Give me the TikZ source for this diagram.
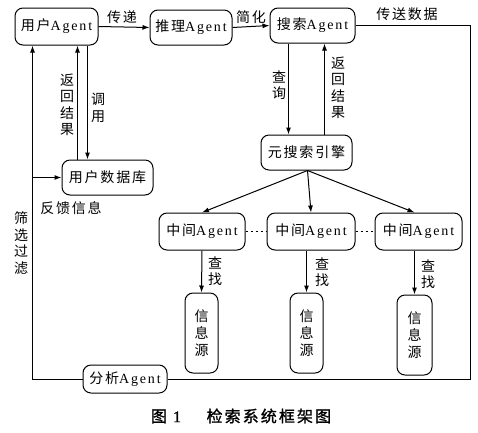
\documentclass[tikz,border=0pt]{standalone}
\usepackage{fontspec}
\setmainfont{Liberation Serif}[LetterSpace=13]
\newfontfamily\cjk{Noto Sans CJK SC}[LetterSpace=13]
\newfontfamily\cjkb{Noto Sans CJK SC}[LetterSpace=13,FakeBold=1.2]
\newfontfamily\capfont{Liberation Serif}[FakeBold=1.2]
\usetikzlibrary{arrows.meta,calc}
\newcommand\zh[1]{{\cjk #1}}
\begin{document}
\begin{tikzpicture}[x=1pt,y=-1pt,
  font=\fontsize{14}{16.5}\selectfont,
  box/.style={draw, line width=1pt, rounded corners=8pt, inner sep=0pt, align=center},
  arr/.style={line width=1pt, -{Latex[length=7pt,width=5pt]}},
  ln/.style={line width=1pt},
  lab/.style={inner sep=0pt, align=center, font=\fontsize{14}{16.5}\selectfont\cjk},
  dots/.style={line width=1pt, dash pattern=on 2.5pt off 2.5pt}]
\useasboundingbox (0,0) rectangle (478,432);

% nodes
\node[box, minimum width=83pt, minimum height=37pt] (ua) at (56.5,26.5) {\zh{用户}Agent};
\node[box, minimum width=82pt, minimum height=35pt] (tl) at (191,27.5) {\zh{推理}Agent};
\node[box, minimum width=85pt, minimum height=35pt] (sa) at (312.5,25.5) {\zh{搜索}Agent};
\node[box, minimum width=91pt, minimum height=35pt, font=\fontsize{14}{16.5}\selectfont\cjk] (meta) at (306.5,152.5) {元搜索引擎};
\node[box, minimum width=91pt, minimum height=35pt, font=\fontsize{14}{16.5}\selectfont\cjk] (db) at (107.5,177.5) {用户数据库};
\node[box, minimum width=86pt, minimum height=37pt] (m1) at (202,231.5) {\zh{中间}Agent};
\node[box, minimum width=88pt, minimum height=37pt] (m2) at (311,231.5) {\zh{中间}Agent};
\node[box, minimum width=87pt, minimum height=37pt] (m3) at (418.5,231.5) {\zh{中间}Agent};
\node[box, minimum width=33pt, minimum height=80pt, font=\fontsize{14}{17}\selectfont\cjk] (s1) at (201.5,333) {信\\息\\源};
\node[box, minimum width=33pt, minimum height=80pt, font=\fontsize{14}{17}\selectfont\cjk] (s2) at (306.5,333) {信\\息\\源};
\node[box, minimum width=35pt, minimum height=80pt, font=\fontsize{14}{17}\selectfont\cjk] (s3) at (414.5,335) {信\\息\\源};
\node[box, minimum width=84pt, minimum height=28pt] (an) at (125,379) {\zh{分析}Agent};

% top row
\draw[arr] (ua.east) -- (tl.west);
\draw[arr] (tl.east) -- (sa.west);
\node[lab] (l1) at (122,17) {传递};
\node[lab] (l2) at (251,17) {简化};
\node[lab] (l3) at (407,14) {传送数据};

% right loop
\coordinate (rc) at (470,0);
\draw[ln] (sa.east) -| (rc |- an.east) -- (an.east);

% left loop
\coordinate (ul) at ($(ua.south west)+(18,0)$);
\draw[arr] (an.west) -| (ul);
\coordinate (jb) at (ul |- db.west);
\draw[arr] (jb) -- (db.west);
\node[lab] (l4) at (21,243) {筛\\选\\过\\滤};
\node[lab] (l5) at (71,208) {反馈信息};

% user agent <-> database
\coordinate (u1) at ($(db.north west)+(16,0)$);
\coordinate (d1) at ($(db.north west)+(26,0)$);
\draw[arr] (u1) -- (u1 |- ua.south);
\draw[arr] (d1 |- ua.south) -- (d1);
\node[lab] (l6) at (67,105) {返\\回\\结\\果};
\node[lab] (l7) at (98,108) {调\\用};

% search agent <-> meta engine
\coordinate (q1) at ($(meta.north west)+(28,0)$);
\coordinate (r1) at ($(meta.north west)+(64,0)$);
\draw[arr] (q1 |- sa.south) -- (q1);
\draw[arr] (r1) -- (r1 |- sa.south);
\node[lab] (l8) at (279,85) {查\\询};
\node[lab] (l9) at (338,88) {返\\回\\结\\果};

% meta -> middle agents
\coordinate (ms) at ($(meta.south)+(1,0)$);
\draw[arr] (ms) -- (m1.north);
\draw[arr] (ms) -- (m2.north);
\draw[arr] (ms) -- ($(m3.north)+(-4,0)$);
\draw[dots] (m1.east) -- (m2.west);
\draw[dots] (m2.east) -- (m3.west);

% middle agents -> sources
\draw[arr] (m1.south) -- (s1.north);
\draw[arr] (m2.south -| s2.north) -- (s2.north);
\draw[arr] (m3.south -| s3.north) -- (s3.north);
\node[lab] (f1) at (215,271) {查\\找};
\node[lab] (f2) at (322,272) {查\\找};
\node[lab] (f3) at (428,274) {查\\找};

% caption
\node[inner sep=0pt, font=\fontsize{16}{18}\selectfont] (cap) at (241,416) {{\cjkb 图}\ {\capfont 1}\hspace{1.6em}{\cjkb 检索系统框架图}};
\end{tikzpicture}
\end{document}
